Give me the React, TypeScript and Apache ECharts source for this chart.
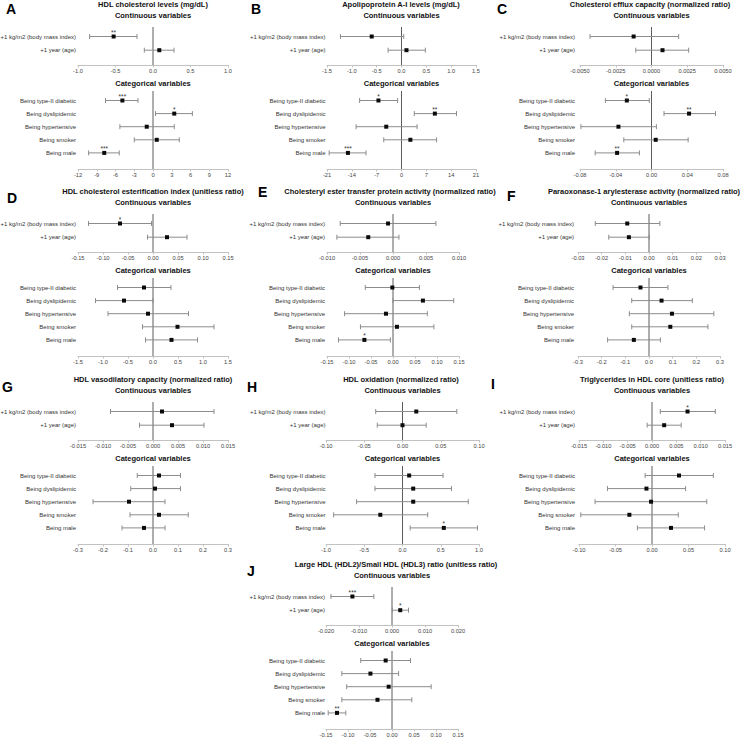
import React, { useEffect, useRef } from 'react';
import * as echarts from 'echarts';

const FONT = '"Liberation Sans", Arial, Helvetica, sans-serif';

const contLabels = ['+1 kg/m2 (body mass index)', '+1 year (age)'];
const catLabels = ['Being type-II diabetic', 'Being dyslipidemic', 'Being hypertensive', 'Being smoker', 'Being male'];

// rows: [estimate, lower 95% CI, upper 95% CI]
const hdlCholCont = [[-0.525, -0.845, -0.213], [0.084, -0.116, 0.28]];
const hdlCholContSig = ['**', ''];
const hdlCholCat = [[-4.9, -7.6, -2.4], [3.4, 0.4, 6.3], [-1.0, -5.3, 3.4], [0.6, -3.0, 4.2], [-7.8, -10.3, -5.4]];
const hdlCholCatSig = ['***', '*', '', '', '***'];

const apoaCont = [[-0.6, -1.23, 0.045], [0.1, -0.27, 0.48]];
const apoaContSig = ['', ''];
const apoaCat = [[-6.5, -11.8, -1.1], [9.4, 3.6, 15.5], [-4.3, -12.8, 4.4], [2.5, -5.0, 9.9], [-15.1, -20.4, -10.0]];
const apoaCatSig = ['*', '**', '', '', '***'];

const effluxCont = [[-0.00125, -0.0043, 0.0019], [0.00077, -0.0011, 0.0026]];
const effluxContSig = ['', ''];
const effluxCat = [[-0.0276, -0.0516, -0.0025], [0.042, 0.014, 0.0716], [-0.037, -0.079, 0.0055], [0.0047, -0.031, 0.041], [-0.0385, -0.063, -0.0135]];
const effluxCatSig = ['*', '**', '', '', '**'];

const esterCont = [[-0.066, -0.129, -0.003], [0.028, -0.011, 0.068]];
const esterContSig = ['*', ''];
const esterCat = [[-0.18, -0.71, 0.36], [-0.58, -1.15, 0.0], [-0.1, -0.9, 0.71], [0.49, -0.21, 1.22], [0.37, -0.15, 0.89]];
const esterCatSig = ['', '', '', '', ''];

const cetpCont = [[-0.00075, -0.008, 0.0065], [-0.00375, -0.0085, 0.0009]];
const cetpContSig = ['', ''];
const cetpCat = [[-0.0015, -0.063, 0.06], [0.068, 0.0, 0.138], [-0.016, -0.11, 0.078], [0.009, -0.074, 0.093], [-0.065, -0.124, -0.006]];
const cetpCatSig = ['', '', '', '', '*'];

const pon1Cont = [[-0.0092, -0.0227, 0.0046], [-0.0085, -0.017, 0.0001]];
const pon1ContSig = ['', ''];
const pon1Cat = [[-0.036, -0.152, 0.08], [0.053, -0.073, 0.183], [0.097, -0.083, 0.274], [0.09, -0.073, 0.249], [-0.064, -0.175, 0.048]];
const pon1CatSig = ['', '', '', '', ''];

const vasoCont = [[0.0018, -0.0085, 0.0122], [0.0038, -0.0027, 0.0102]];
const vasoContSig = ['', ''];
const vasoCat = [[0.024, -0.063, 0.11], [0.008, -0.089, 0.11], [-0.096, -0.24, 0.048], [0.024, -0.092, 0.141], [-0.036, -0.124, 0.048]];
const vasoCatSig = ['', '', '', '', ''];

const oxidCont = [[0.018, -0.035, 0.071], [0.0, -0.033, 0.031]];
const oxidContSig = ['', ''];
const oxidCat = [[0.087, -0.36, 0.53], [0.14, -0.36, 0.64], [0.14, -0.6, 0.86], [-0.29, -0.9, 0.33], [0.54, 0.1, 0.98]];
const oxidCatSig = ['', '', '', '', '*'];

const tgCont = [[0.0073, 0.0017, 0.013], [0.0025, -0.001, 0.006]];
const tgContSig = ['*', ''];
const tgCat = [[0.037, -0.0094, 0.084], [-0.0076, -0.061, 0.046], [-0.0013, -0.078, 0.075], [-0.031, -0.0975, 0.036], [0.026, -0.02, 0.072]];
const tgCatSig = ['', '', '', '', ''];

const hdlRatioCont = [[-0.012, -0.0185, -0.0055], [0.0025, 0.0001, 0.005]];
const hdlRatioContSig = ['***', '*'];
const hdlRatioCat = [[-0.0144, -0.071, 0.042], [-0.049, -0.114, 0.015], [-0.0076, -0.103, 0.089], [-0.033, -0.114, 0.045], [-0.125, -0.145, -0.105]];
const hdlRatioCatSig = ['', '', '', '', '**'];

// axis ticks: [min, max, step, decimals]
const ticksA = [[-1, 1, 0.5, 1], [-12, 12, 3, 0]];
const ticksB = [[-1.5, 1.5, 0.5, 1], [-21, 21, 7, 0]];
const ticksC = [[-0.005, 0.005, 0.0025, 4], [-0.08, 0.08, 0.04, 2]];
const ticksD = [[-0.15, 0.15, 0.05, 2], [-1.5, 1.5, 0.5, 1]];
const ticksE = [[-0.01, 0.01, 0.005, 3], [-0.15, 0.15, 0.05, 2]];
const ticksF = [[-0.03, 0.03, 0.01, 2], [-0.3, 0.3, 0.1, 1]];
const ticksG = [[-0.015, 0.015, 0.005, 3], [-0.3, 0.3, 0.1, 1]];
const ticksH = [[-0.1, 0.1, 0.05, 2], [-1, 1, 0.5, 1]];
const ticksI = [[-0.015, 0.015, 0.005, 3], [-0.1, 0.1, 0.05, 2]];
const ticksJ = [[-0.02, 0.02, 0.01, 3], [-0.15, 0.15, 0.05, 2]];

const panels = [
  { letter: 'A', title: 'HDL cholesterol levels (mg/dL)', cont: hdlCholCont, contSig: hdlCholContSig, cat: hdlCholCat, catSig: hdlCholCatSig, ticks: ticksA },
  { letter: 'B', title: 'Apolipoprotein A-I levels (mg/dL)', cont: apoaCont, contSig: apoaContSig, cat: apoaCat, catSig: apoaCatSig, ticks: ticksB },
  { letter: 'C', title: 'Cholesterol efflux capacity (normalized ratio)', cont: effluxCont, contSig: effluxContSig, cat: effluxCat, catSig: effluxCatSig, ticks: ticksC },
  { letter: 'D', title: 'HDL cholesterol esterification index (unitless ratio)', cont: esterCont, contSig: esterContSig, cat: esterCat, catSig: esterCatSig, ticks: ticksD },
  { letter: 'E', title: 'Cholesteryl ester transfer protein activity (normalized ratio)', cont: cetpCont, contSig: cetpContSig, cat: cetpCat, catSig: cetpCatSig, ticks: ticksE },
  { letter: 'F', title: 'Paraoxonase-1 arylesterase activity (normalized ratio)', cont: pon1Cont, contSig: pon1ContSig, cat: pon1Cat, catSig: pon1CatSig, ticks: ticksF },
  { letter: 'G', title: 'HDL vasodilatory capacity (normalized ratio)', cont: vasoCont, contSig: vasoContSig, cat: vasoCat, catSig: vasoCatSig, ticks: ticksG },
  { letter: 'H', title: 'HDL oxidation (normalized ratio)', cont: oxidCont, contSig: oxidContSig, cat: oxidCat, catSig: oxidCatSig, ticks: ticksH },
  { letter: 'I', title: 'Triglycerides in HDL core (unitless ratio)', cont: tgCont, contSig: tgContSig, cat: tgCat, catSig: tgCatSig, ticks: ticksI },
  { letter: 'J', title: 'Large HDL (HDL2)/Small HDL (HDL3) ratio (unitless ratio)', cont: hdlRatioCont, contSig: hdlRatioContSig, cat: hdlRatioCat, catSig: hdlRatioCatSig, ticks: ticksJ },
];

// layout (pixels): axis start/end, panel top, label right edge, title centre, letter position
const layout = [
  { x0: 78, x1: 228, t: 4, lr: 76, tc: 153, lx: 6, ly: 8.5 },
  { x0: 327, x1: 476, t: 4, lr: 325.5, tc: 401, lx: 251, ly: 8.5 },
  { x0: 580, x1: 723, t: 4, lr: 575, tc: 650, lx: 497, ly: 8.5 },
  { x0: 78, x1: 228, t: 191, lr: 76, tc: 153, lx: 7, ly: 197.5 },
  { x0: 327, x1: 459, t: 191, lr: 325, tc: 390, lx: 258, ly: 192 },
  { x0: 578, x1: 720, t: 191, lr: 574, tc: 644, lx: 507, ly: 196 },
  { x0: 78, x1: 228, t: 379, lr: 76, tc: 153, lx: 2, ly: 387 },
  { x0: 326, x1: 479, t: 379, lr: 325.5, tc: 401, lx: 247, ly: 387 },
  { x0: 579, x1: 725, t: 379, lr: 575, tc: 652, lx: 491, ly: 384 },
  { x0: 326, x1: 458, t: 564, lr: 325, tc: 396, lx: 247, ly: 571 },
];

const fmt = (v: number, d: number) => {
  const x = Math.abs(v) < 1e-12 ? 0 : v;
  return x.toFixed(d);
};

function buildOption() {
  const grids: any[] = [];
  const xAxes: any[] = [];
  const yAxes: any[] = [];
  const series: any[] = [];
  const graphics: any[] = [];

  panels.forEach((p, pi) => {
    const L = layout[pi];
    const mid = (L.x0 + L.x1) / 2;
    graphics.push({
      type: 'text', x: L.lx, y: L.ly, silent: true,
      style: { text: p.letter, font: `bold 14px ${FONT}`, fill: '#000', align: 'left', verticalAlign: 'middle', textAlign: 'left', textVerticalAlign: 'middle' },
    });
    graphics.push({
      type: 'text', x: L.tc, y: L.t, silent: true,
      style: { text: p.title, font: `bold 7.5px ${FONT}`, fill: '#111', align: 'center', verticalAlign: 'middle', textAlign: 'center', textVerticalAlign: 'middle' },
    });
    const sections = [
      { rows: p.cont, sig: p.contSig, labels: contLabels, ticks: p.ticks[0], row0: L.t + 32.5, step: 13.7, axisY: L.t + 61, zeroTop: L.t + 23, header: 'Continuous variables', headerY: L.t + 11.8 },
      { rows: p.cat, sig: p.catSig, labels: catLabels, ticks: p.ticks[1], row0: L.t + 96.5, step: 13.1, axisY: L.t + 165, zeroTop: L.t + 87, header: 'Categorical variables', headerY: L.t + 79 },
    ];
    sections.forEach((s) => {
      const gi = grids.length;
      const top = s.row0 - s.step;
      const yMax = (s.axisY - s.row0) / s.step;
      const yZeroTop = (s.zeroTop - s.row0) / s.step;
      grids.push({ left: L.x0, top, width: L.x1 - L.x0, height: s.axisY - top, containLabel: false, outerBoundsMode: 'none' });
      const tk = s.ticks;
      xAxes.push({
        type: 'value', gridIndex: gi, min: tk[0], max: tk[1], interval: tk[2],
        axisLine: { show: true, onZero: false, lineStyle: { color: '#c2c2c2', width: 1 } },
        axisTick: { show: true, length: 2.5, lineStyle: { color: '#c2c2c2', width: 1 } },
        splitLine: { show: false },
        axisLabel: { fontSize: 5.7, color: '#444', margin: 2.5, fontFamily: FONT, showMinLabel: true, showMaxLabel: true, formatter: (v: number) => fmt(v, tk[3]) },
      });
      const labels = s.labels;
      yAxes.push({
        type: 'value', gridIndex: gi, inverse: true, min: -1, max: yMax, interval: 1,
        axisLine: { show: false, onZero: false }, axisTick: { show: false }, splitLine: { show: false },
        axisLabel: {
          fontSize: 6, color: '#333', margin: L.x0 - L.lr, fontFamily: FONT, showMinLabel: true, showMaxLabel: true,
          formatter: (v: number) => {
            const k = Math.round(v);
            return Math.abs(v - k) < 1e-6 && k >= 0 && k < labels.length ? labels[k] : '';
          },
        },
      });
      series.push({
        type: 'line', xAxisIndex: gi, yAxisIndex: gi, silent: true, symbol: 'none', z: 1,
        data: [[0, yZeroTop], [0, yMax]],
        lineStyle: { color: '#5c5c5c', width: 1 },
      });
      const sig = s.sig;
      series.push({
        type: 'custom', xAxisIndex: gi, yAxisIndex: gi, z: 3, silent: true,
        encode: { x: [1, 2, 3], y: 0 },
        data: s.rows.map((r: number[], i: number) => [i, r[0], r[1], r[2]]),
        renderItem: (params: any, api: any) => {
          const i = api.value(0);
          const pe = api.coord([api.value(1), i]);
          const pl = api.coord([api.value(2), i]);
          const pr = api.coord([api.value(3), i]);
          const y = pe[1];
          const stroke = { stroke: '#8c8c8c', lineWidth: 1 };
          const children: any[] = [
            { type: 'line', shape: { x1: pl[0], y1: y, x2: pr[0], y2: y }, style: stroke },
            { type: 'line', shape: { x1: pl[0], y1: y - 2.5, x2: pl[0], y2: y + 2.5 }, style: stroke },
            { type: 'line', shape: { x1: pr[0], y1: y - 2.5, x2: pr[0], y2: y + 2.5 }, style: stroke },
            { type: 'rect', shape: { x: pe[0] - 2, y: y - 2, width: 4, height: 4 }, style: { fill: '#0a0a0a' } },
          ];
          const st = sig[params.dataIndex];
          if (st) {
            children.push({
              type: 'text', x: pe[0], y: y - 4.3,
              style: { text: st, font: `6.5px ${FONT}`, fill: '#333', align: 'center', verticalAlign: 'middle', textAlign: 'center', textVerticalAlign: 'middle' },
            });
          }
          return { type: 'group', children };
        },
      });
      graphics.push({
        type: 'text', x: mid, y: s.headerY, silent: true,
        style: { text: s.header, font: `bold 7.5px ${FONT}`, fill: '#111', align: 'center', verticalAlign: 'middle', textAlign: 'center', textVerticalAlign: 'middle' },
      });
    });
  });

  return {
    animation: false,
    backgroundColor: '#ffffff',
    textStyle: { fontFamily: FONT },
    grid: grids,
    xAxis: xAxes,
    yAxis: yAxes,
    series,
    graphic: { elements: graphics },
  };
}

export default function App() {
  const ref = useRef<HTMLDivElement>(null);
  useEffect(() => {
    if (!ref.current) return;
    const chart = echarts.init(ref.current, undefined, { renderer: 'svg' });
    chart.setOption(buildOption() as any);
    return () => chart.dispose();
  }, []);
  return <div ref={ref} style={{ position: 'absolute', left: 0, top: 0, width: 740, height: 738, background: '#fff' }} />;
}
